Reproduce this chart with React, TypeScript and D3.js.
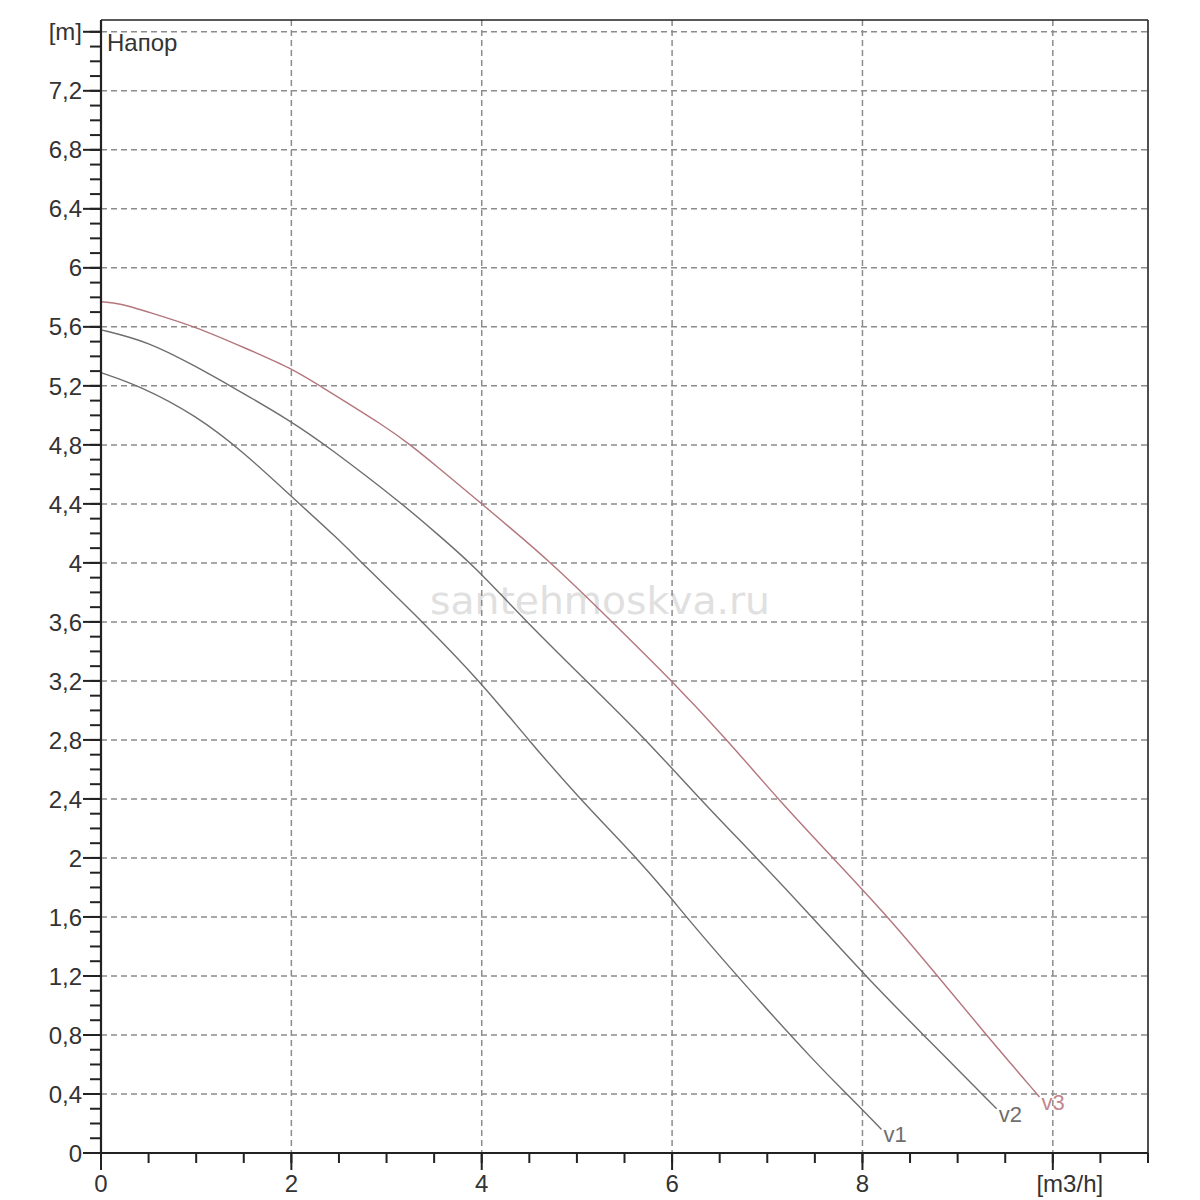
import React from 'react';
import * as d3 from 'd3';

// Q [m3/h], H [m]
const v1Flow = [0, 0.41, 1, 1.5, 2, 2.48, 2.74, 3.38, 3.98, 4.49, 5.03, 5.63, 6, 6.15, 6.68, 7.55, 7.87, 8.2];
const v1Head = [5.29, 5.2, 5.0, 4.75, 4.45, 4.17, 4.0, 3.6, 3.2, 2.8, 2.4, 2.0, 1.72, 1.6, 1.2, 0.58, 0.38, 0.16];

const v2Flow = [0, 0.5, 1, 1.36, 2, 2.38, 3.17, 3.56, 3.92, 4.47, 5.1, 5.73, 6.29, 6.89, 7.47, 8.03, 8.64, 9.41];
const v2Head = [5.58, 5.5, 5.33, 5.2, 4.96, 4.79, 4.4, 4.18, 3.98, 3.6, 3.2, 2.8, 2.4, 2.0, 1.6, 1.2, 0.8, 0.3];

const v3Flow = [0, 0.2, 0.5, 1, 1.5, 2, 2.3, 3, 3.25, 3.5, 4, 4.74, 5.37, 6, 6.58, 7.11, 7.69, 8.27, 8.79, 9.3, 9.86];
const v3Head = [5.77, 5.76, 5.7, 5.6, 5.46, 5.32, 5.2, 4.92, 4.8, 4.67, 4.4, 4.0, 3.6, 3.2, 2.8, 2.4, 2.0, 1.6, 1.2, 0.8, 0.38];

const seriesNames = ['v1', 'v2', 'v3'];
const xTickLabels = ['0', '2', '4', '6', '8', '[m3/h]'];
const yTickLabels = ['0', '0,4', '0,8', '1,2', '1,6', '2', '2,4', '2,8', '3,2', '3,6', '4', '4,4', '4,8', '5,2', '5,6', '6', '6,4', '6,8', '7,2', '[m]'];

const FONT = '"Liberation Sans", Arial, sans-serif';

const App: React.FC = () => {
  const width = 1200;
  const height = 1200;
  const left = 101;
  const right = 1148;
  const top = 20;
  const bottom = 1153;

  const x = d3.scaleLinear().domain([0, 11]).range([left, right]);
  const y = d3.scaleLinear().domain([0, 7.68]).range([bottom, top]);

  const series = [
    { name: seriesNames[0], pts: v1Flow.map((q, i) => [q, v1Head[i]] as [number, number]), stroke: '#6e6e6e', label: '#6e6e6e' },
    { name: seriesNames[1], pts: v2Flow.map((q, i) => [q, v2Head[i]] as [number, number]), stroke: '#6e6e6e', label: '#6e6e6e' },
    { name: seriesNames[2], pts: v3Flow.map((q, i) => [q, v3Head[i]] as [number, number]), stroke: '#b4767d', label: '#c4868d' },
  ];

  // basis smooths out the reading noise of the hand-picked points
  const line = d3.line<[number, number]>()
    .x(d => x(d[0]))
    .y(d => y(d[1]))
    .curve(d3.curveBasis);

  const xMajor = [0, 2, 4, 6, 8, 10];
  const xMinor = d3.range(0, 11.01, 0.5);
  const yMajor = d3.range(0, 7.61, 0.4);
  const yMinor = d3.range(0, 7.61, 0.1);

  return (
    <svg width={width} height={height} style={{ position: 'absolute', left: 0, top: 0, background: '#fff' }}>
      <rect x={0} y={0} width={width} height={height} fill="#fff" />

      {/* watermark */}
      <text x={600} y={614} textAnchor="middle" fontFamily='"DejaVu Sans", sans-serif' fontSize={37}
        fill="#e0e0e0" textLength={340} lengthAdjust="spacingAndGlyphs">santehmoskva.ru</text>

      {/* grid */}
      <g stroke="#8c8c8c" strokeWidth={1.5} strokeDasharray="6,4">
        {yMajor.slice(1).map(v => (
          <line key={'gy' + v} x1={left} x2={right} y1={y(v)} y2={y(v)} />
        ))}
        {xMajor.slice(1).map(v => (
          <line key={'gx' + v} x1={x(v)} x2={x(v)} y1={top} y2={bottom} />
        ))}
      </g>

      {/* curves */}
      {series.map(s => {
        const last = s.pts[s.pts.length - 1];
        return (
          <g key={s.name}>
            <path d={line(s.pts) || ''} fill="none" stroke={s.stroke} strokeWidth={1.4} />
            <text x={x(last[0]) + 2} y={y(last[1]) + 13} fontFamily={FONT} fontSize={22} fill={s.label}>{s.name}</text>
          </g>
        );
      })}

      {/* frame */}
      <line x1={left} x2={right} y1={top} y2={top} stroke="#222" strokeWidth={1.6} />
      <line x1={right} x2={right} y1={top} y2={bottom} stroke="#222" strokeWidth={1.6} />
      <line x1={left} x2={left} y1={top} y2={bottom} stroke="#222" strokeWidth={2.2} />
      <line x1={left} x2={right} y1={bottom} y2={bottom} stroke="#222" strokeWidth={2.2} />

      {/* y ticks */}
      <g stroke="#222" strokeWidth={2}>
        {yMinor.map(v => (
          <line key={'ym' + v} x1={left - 11} x2={left} y1={y(v)} y2={y(v)} />
        ))}
        {yMajor.map(v => (
          <line key={'yM' + v} x1={left - 18} x2={left} y1={y(v)} y2={y(v)} />
        ))}
      </g>
      {yMajor.map((v, i) => (
        <text key={'yl' + v} x={left - 19} y={y(v)} dy="0.36em" textAnchor="end"
          fontFamily={FONT} fontSize={24} fill="#333">{yTickLabels[i]}</text>
      ))}

      {/* x ticks */}
      <g stroke="#222" strokeWidth={2}>
        {xMinor.map(v => (
          <line key={'xm' + v} x1={x(v)} x2={x(v)} y1={bottom} y2={bottom + 10} />
        ))}
        {xMajor.map(v => (
          <line key={'xM' + v} x1={x(v)} x2={x(v)} y1={bottom} y2={bottom + 17} />
        ))}
      </g>
      {xMajor.map((v, i) => (
        <text key={'xl' + v} x={x(v) + (i === xMajor.length - 1 ? 17 : 0)} y={1192} textAnchor="middle"
          fontFamily={FONT} fontSize={24} fill="#333">{xTickLabels[i]}</text>
      ))}

      <text x={107} y={51} fontFamily={FONT} fontSize={24} fill="#333">Напор</text>
    </svg>
  );
};

export default App;
